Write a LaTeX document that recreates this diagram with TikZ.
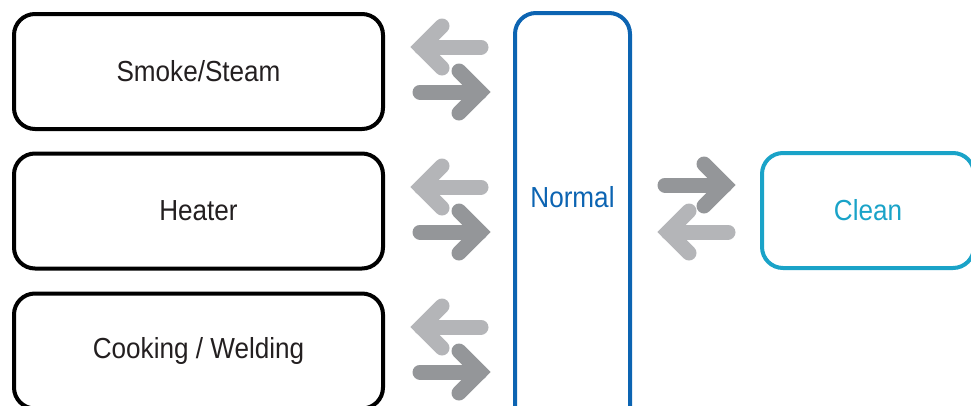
\documentclass[tikz,border=0pt]{standalone}
\usepackage{fontspec}
\setmainfont{Liberation Sans}[FakeStretch=0.9]
\usetikzlibrary{calc}
\definecolor{txt}{RGB}{35,31,32}
\definecolor{nblue}{RGB}{12,100,178}
\definecolor{cteal}{RGB}{26,163,200}
\definecolor{glight}{RGB}{180,181,184}
\definecolor{gdark}{RGB}{148,150,153}
\tikzset{
  statebox/.style={draw, line width=4pt, rounded corners=21pt, text=txt, inner sep=0pt,
    font=\fontsize{29}{32}\selectfont},
  arrowline/.style={line width=15pt, line cap=round, line join=miter},
  pics/leftarr/.style={code={
    \draw[arrowline, draw=#1] (30,0) -- (-30,0);
    \draw[arrowline, draw=#1] (-9,-21) -- (-30,0) -- (-9,21);
  }},
  pics/rightarr/.style={code={
    \draw[arrowline, draw=#1] (-30,0) -- (30,0);
    \draw[arrowline, draw=#1] (9,-21) -- (30,0) -- (9,21);
  }},
}
\begin{document}
\begin{tikzpicture}[x=1pt, y=-1pt]
\useasboundingbox (0,0) rectangle (971,405);
\clip (0,0) rectangle (971,405);
% left boxes (centerline x 14..383, height 115)
\node[statebox, minimum width=369pt, minimum height=115pt] (smoke) at (198.5,71.5) {Smoke/Steam};
\node[statebox, minimum width=369pt, minimum height=115pt] (heater) at (198.5,211) {Heater};
\node[statebox, minimum width=369pt, minimum height=115pt] (cook) at (198.5,351) {Cooking / Welding};
% Normal box
\node[statebox, draw=nblue, minimum width=115pt, minimum height=430pt] (normal) at (572.5,228) {};
\node[text=nblue, font=\fontsize{29}{32}\selectfont, inner sep=0pt] (normaltxt) at (572.5,197) {Normal};
% Clean box
\node[statebox, draw=cteal, text=cteal, minimum width=212pt, minimum height=115pt] (clean) at (868,210.5) {Clean};
% arrows between left boxes and Normal
\foreach \r in {0,1,2}{
  \pic at (451,47+140*\r) {leftarr=glight};
  \pic at (450,92+140*\r) {rightarr=gdark};
}
% arrows between Normal and Clean
\pic at (695,185) {rightarr=gdark};
\pic at (698,232) {leftarr=glight};
\end{tikzpicture}
\end{document}
